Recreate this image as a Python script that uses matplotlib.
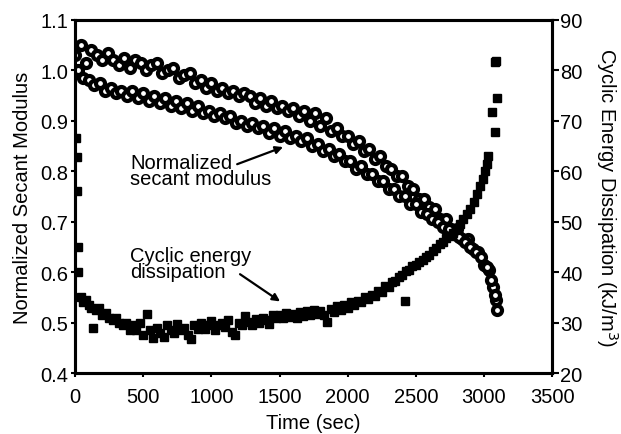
import matplotlib.pyplot as plt

plt.rcParams['font.family'] = ['Liberation Sans', 'DejaVu Sans']

# normalized secant modulus - upper band of cycles
t_mod_a = [0, 40, 80, 120, 160, 200, 240, 280, 320, 360, 400, 440, 480, 520, 560,
           600, 640, 680, 720, 760, 800, 840, 880, 920, 960, 1000, 1040, 1080, 1120,
           1160, 1200, 1240, 1280, 1320, 1360, 1400, 1440, 1480, 1520, 1560, 1600,
           1640, 1680, 1720, 1760, 1800, 1840, 1880, 1920, 1960, 2000, 2040, 2080,
           2120, 2160, 2200, 2240, 2280, 2320, 2360, 2400, 2440, 2480, 2520, 2560,
           2600, 2640, 2680, 2720, 2760, 2800, 2840, 2880, 2920, 2960, 3000, 3040,
           3070, 3090]
mod_a = [1.03, 1.05, 1.015, 1.04, 1.03, 1.02, 1.035, 1.02, 1.01, 1.025,
         1.005, 1.02, 1.015, 1.0, 1.01, 1.015, 0.995, 1.0, 1.005, 0.985,
         0.99, 0.995, 0.975, 0.98, 0.965, 0.975, 0.96, 0.965, 0.955, 0.96,
         0.95, 0.955, 0.95, 0.935, 0.945, 0.93, 0.94, 0.925, 0.93, 0.92,
         0.925, 0.91, 0.92, 0.90, 0.915, 0.89, 0.905, 0.88, 0.885, 0.87,
         0.87, 0.855, 0.86, 0.84, 0.845, 0.825, 0.83, 0.81, 0.805, 0.79,
         0.79, 0.77, 0.765, 0.745, 0.745, 0.73, 0.725, 0.705, 0.705, 0.685,
         0.685, 0.665, 0.665, 0.645, 0.64, 0.615, 0.605, 0.57, 0.545]

# normalized secant modulus - lower band of cycles
t_mod_b = [20, 60, 100, 140, 180, 220, 260, 300, 340, 380, 420, 460, 500, 540, 580,
           620, 660, 700, 740, 780, 820, 860, 900, 940, 980, 1020, 1060, 1100, 1140,
           1180, 1220, 1260, 1300, 1340, 1380, 1420, 1460, 1500, 1540, 1580, 1620,
           1660, 1700, 1740, 1780, 1820, 1860, 1900, 1940, 1980, 2020, 2060, 2100,
           2140, 2180, 2220, 2260, 2300, 2340, 2380, 2420, 2460, 2500, 2540, 2580,
           2620, 2660, 2700, 2740, 2780, 2820, 2860, 2900, 2940, 2980, 3020, 3050,
           3080, 3096]
mod_b = [1.00, 0.985, 0.98, 0.97, 0.975, 0.96, 0.965, 0.955, 0.96, 0.95,
         0.96, 0.945, 0.955, 0.94, 0.95, 0.935, 0.945, 0.93, 0.94, 0.925,
         0.935, 0.92, 0.93, 0.915, 0.92, 0.91, 0.915, 0.905, 0.91, 0.895,
         0.90, 0.89, 0.895, 0.885, 0.89, 0.875, 0.885, 0.87, 0.88, 0.865,
         0.87, 0.86, 0.865, 0.85, 0.855, 0.84, 0.845, 0.83, 0.835, 0.82,
         0.82, 0.805, 0.81, 0.795, 0.795, 0.78, 0.78, 0.765, 0.765, 0.75,
         0.75, 0.735, 0.735, 0.72, 0.715, 0.705, 0.70, 0.69, 0.685, 0.675,
         0.67, 0.66, 0.65, 0.64, 0.63, 0.61, 0.585, 0.555, 0.525]

# cyclic energy dissipation (kJ/m3)
t_energy = [5, 10, 15, 18, 20, 40, 60, 80, 100, 120, 130, 150, 175, 200, 225, 250,
            275, 300, 325, 350, 375, 400, 425, 450, 475, 500, 528, 550, 575, 600, 625,
            650, 675, 700, 725, 750, 775, 800, 825, 850, 875, 900, 925, 950, 975, 1000,
            1025, 1050, 1075, 1100, 1125, 1150, 1175, 1200, 1225, 1250, 1275, 1300,
            1325, 1350, 1375, 1400, 1425, 1450, 1475, 1500, 1525, 1550, 1575, 1600,
            1625, 1650, 1675, 1700, 1725, 1750, 1775, 1800, 1825, 1850, 1875, 1900,
            1925, 1950, 1975, 2000, 2025, 2050, 2075, 2100, 2125, 2150, 2175, 2200,
            2225, 2250, 2275, 2300, 2325, 2350, 2375, 2400, 2420, 2425, 2450, 2475,
            2500, 2525, 2550, 2575, 2600, 2625, 2650, 2675, 2700, 2725, 2750, 2775,
            2800, 2825, 2850, 2875, 2900, 2925, 2950, 2970, 2990, 3005, 3020, 3030,
            3060, 3080, 3096, 3078, 3092]
energy = [66.5, 62.8, 56, 45, 40, 35, 34, 34.5, 33.5, 33, 29, 32.5, 33, 31.5, 32, 31,
          30.5, 31, 30, 29.5, 30, 28.5, 29.5, 28.5, 30, 27.5, 31.7, 28.5, 27, 29, 28,
          27.2, 29.5, 28.5, 28, 29.8, 28.5, 29, 27.5, 26.8, 29.5, 28.7, 30, 28.8, 29.5,
          30.3, 28.5, 29.5, 30, 29.2, 30.5, 28.2, 27.5, 30, 29.5, 31.3, 30.2, 29.5,
          30.8, 30, 31, 30.5, 29.8, 31.5, 31, 31.5, 31, 32, 31.2, 31.8, 31, 32.2, 31.3,
          32.3, 31.5, 32.6, 31.8, 32.3, 31.5, 30.2, 32.8, 32.2, 33.2, 32.6, 33.5, 33,
          34, 33.4, 34.3, 34, 35, 34.6, 35.5, 35.3, 36.3, 36, 37.2, 37, 38, 38.2, 39,
          39.5, 34.2, 40.2, 40.5, 41.2, 41.5, 42, 42.5, 43, 43.5, 44.2, 44.8, 45.5, 46,
          46.7, 47.2, 47.8, 48.5, 49.5, 50.5, 51.5, 52.5, 54, 55.5, 57, 58.5, 60, 61.5,
          63, 71.7, 67.8, 74.5, 81.7, 81.8]

fig = plt.figure(figsize=(6.21, 4.35), dpi=100)
ax = fig.add_axes([0.121, 0.140, 0.768, 0.812])
ax2 = ax.twinx()

ax.plot(t_mod_a, mod_a, 'o', ms=6.5, mfc='white', mec='black', mew=3, ls='none')
ax.plot(t_mod_b, mod_b, 'o', ms=6.5, mfc='white', mec='black', mew=3, ls='none')
ax2.plot(t_energy, energy, 's', ms=6, color='black', ls='none')

ax.set_xlim(0, 3500)
ax.set_ylim(0.4, 1.1)
ax2.set_ylim(20, 90)
ax.set_xticks(range(0, 3501, 500))
ax.set_yticks([0.4, 0.5, 0.6, 0.7, 0.8, 0.9, 1.0, 1.1])
ax.set_yticklabels(['0.4', '0.5', '0.6', '0.7', '0.8', '0.9', '1.0', '1.1'])
ax2.set_yticks(range(20, 91, 10))

fs = 14.5
for a in (ax, ax2):
    for s in a.spines.values():
        s.set_linewidth(2.2)
    a.tick_params(direction='out', length=3, width=1.5, labelsize=fs, pad=2)
ax.tick_params(top=False, right=False)
ax.tick_params(axis='x', pad=7)
ax2.tick_params(axis='y', length=5, pad=1)

ax.set_xlabel('Time (sec)', fontsize=fs, labelpad=5)
ax.set_ylabel('Normalized Secant Modulus', fontsize=fs, labelpad=6)
ax2.set_ylabel('Cyclic Energy Dissipation (kJ/m$^3$)', fontsize=fs, rotation=270,
               labelpad=27)

arrow = dict(arrowstyle='-|>', color='black', lw=1.6, shrinkA=0, shrinkB=0,
             mutation_scale=11)
ax.text(403, 0.836, 'Normalized\nsecant modulus', fontsize=fs, linespacing=0.78,
        va='top', ha='left')
ax.annotate('', xy=(1526, 0.848), xytext=(1189, 0.814), arrowprops=arrow)
ax.text(403, 0.651, 'Cyclic energy\ndissipation', fontsize=fs, linespacing=0.78,
        va='top', ha='left')
ax.annotate('', xy=(1504, 0.542), xytext=(1210, 0.596), arrowprops=arrow)

plt.savefig('out.png', dpi=100)
